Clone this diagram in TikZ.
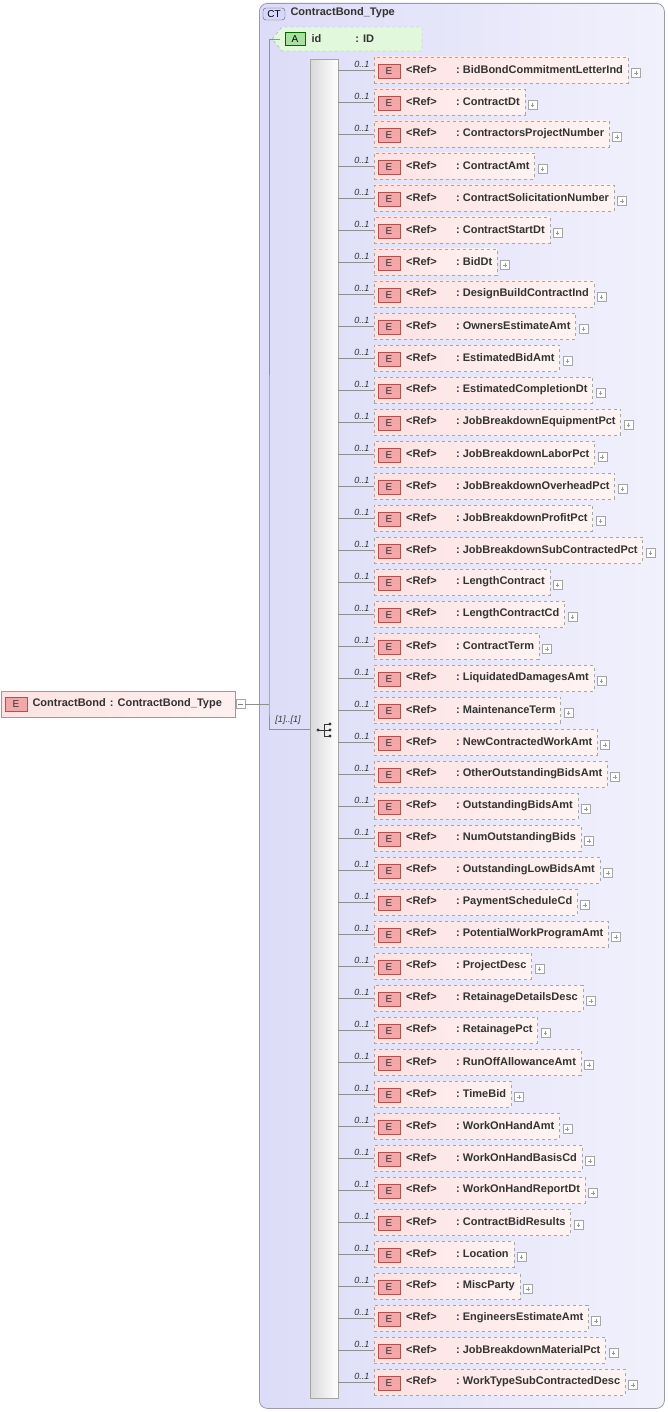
\documentclass[tikz,border=0pt]{standalone}
\usepackage{fontspec}
\setmainfont{Liberation Sans}
\definecolor{ctfill}{HTML}{DCDCF8}
\definecolor{ctborder}{HTML}{9A9AB0}
\definecolor{elfill}{HTML}{FDE2E2}
\definecolor{badge}{HTML}{F2A8A8}
\definecolor{badgeb}{HTML}{B05050}
\definecolor{attfill}{HTML}{E2F8DC}
\definecolor{abadge}{HTML}{A8E0A0}
\definecolor{txt}{HTML}{333333}
\definecolor{ln}{HTML}{909090}
\tikzset{
  elbox/.style={draw=ln!80, dashed, left color=elfill, right color=white!60!elfill, minimum height=26pt, inner xsep=0pt, anchor=west, font=\fontsize{11}{13}\selectfont\bfseries, text=txt},
  ebadge/.style={draw=badgeb, fill=badge, minimum width=22pt, minimum height=14pt, inner sep=0pt, font=\fontsize{10}{12}\selectfont, text=black!80},
  plusbox/.style={draw=ln!80, fill=white, minimum size=9pt, inner sep=0pt},
  conn/.style={draw=ln, line width=0.6pt},
  mult/.style={font=\fontsize{9}{10}\selectfont\itshape, text=txt}
}
\begin{document}
\begin{tikzpicture}[x=1pt,y=-1pt]
\useasboundingbox (0,0) rectangle (668,1412);
% complex type container
\node[draw=ctborder, rounded corners=8pt, left color=ctfill, right color=ctfill!40, minimum width=405pt, minimum height=1405pt, anchor=north west, line width=0.8pt] (ct) at (259,3) {};
\node[draw=ctborder!60!black, fill=ctfill!70!blue!40, rounded corners=3pt, minimum width=22pt, minimum height=12pt, inner sep=0pt, font=\fontsize{10}{12}\selectfont] (ctb) at (274,14) {CT};
\node[anchor=west, font=\fontsize{11}{13}\selectfont\bfseries, text=txt] (ctname) at (287,13) {ContractBond\_Type};
% attribute
\draw[draw=ln!80, dashed, fill=attfill] (272,39) -- (282,27) -- (422,27) -- (422,51) -- (282,51) -- cycle;
\node[draw=green!40!black, fill=abadge, minimum width=20pt, minimum height=13pt, inner sep=0pt, font=\fontsize{10}{12}\selectfont] (ab) at (295,39) {A};
\node[anchor=west, font=\fontsize{11}{13}\selectfont\bfseries, text=txt] (att) at (308,39) {id\hspace{34pt}: ID};
\coordinate (attin) at (280,39);
% sequence bar
\node[draw=ln!80, left color=black!15, right color=white, minimum width=28pt, minimum height=1339pt, anchor=north west, inner sep=0pt] (seq) at (310,59) {};
% sequence icon
\draw[black!80, line width=0.8pt] (318,730) -- (324,730) (324,724) -- (324,736) (324,724) -- (330,724) (324,730) -- (330,730) (324,736) -- (330,736);
\foreach \yy in {724,730,736} \fill[black!80] (330,\yy) circle (1.7pt);
\fill[black!80] (318,730) circle (1.7pt);
% root element
\node[draw=ln!90, left color=elfill, right color=white!50!elfill, minimum height=26pt, minimum width=234pt, anchor=west, inner sep=0pt] (root) at (1,704) {};
\node[ebadge] (rb) at (16,704) {E};
\node[anchor=west, font=\fontsize{11}{13}\selectfont\bfseries, text=txt] (rootname) at (29,704) {ContractBond\hspace{4pt}: ContractBond\_Type};
\node[plusbox, anchor=west] (rminus) at (236,704) {};
\draw[black!50] ([xshift=2pt]rminus.west) -- ([xshift=-2pt]rminus.east);
\coordinate (j) at (269,704);
\draw[conn] (rminus.east) -- (j);
\draw[conn] (attin) -| (j) |- (seq.west |- 0,729);
\node[mult, anchor=south] (m11) at (288,728) {[1]..[1]};
% children
\foreach \name [count=\i from 0] in {BidBondCommitmentLetterInd,ContractDt,ContractorsProjectNumber,ContractAmt,ContractSolicitationNumber,ContractStartDt,BidDt,DesignBuildContractInd,OwnersEstimateAmt,EstimatedBidAmt,EstimatedCompletionDt,JobBreakdownEquipmentPct,JobBreakdownLaborPct,JobBreakdownOverheadPct,JobBreakdownProfitPct,JobBreakdownSubContractedPct,LengthContract,LengthContractCd,ContractTerm,LiquidatedDamagesAmt,MaintenanceTerm,NewContractedWorkAmt,OtherOutstandingBidsAmt,OutstandingBidsAmt,NumOutstandingBids,OutstandingLowBidsAmt,PaymentScheduleCd,PotentialWorkProgramAmt,ProjectDesc,RetainageDetailsDesc,RetainagePct,RunOffAllowanceAmt,TimeBid,WorkOnHandAmt,WorkOnHandBasisCd,WorkOnHandReportDt,ContractBidResults,Location,MiscParty,EngineersEstimateAmt,JobBreakdownMaterialPct,WorkTypeSubContractedDesc} {
  \pgfmathsetmacro{\yy}{70+32*\i}
  \node[elbox] (e\i) at (374,\yy) {\makebox[82pt][l]{\hspace{32pt}<Ref>}:\hspace{3pt}\name\kern5pt\mbox{}};
  \node[ebadge] (b\i) at (389,\yy+1) {E};
  \node[plusbox, anchor=west] (p\i) at ([xshift=3pt,yshift=-3pt]e\i.east) {};
  \draw[black!40] ([xshift=1.8pt]p\i.center) -- ([xshift=-1.8pt]p\i.center) ([yshift=1.8pt]p\i.center) -- ([yshift=-1.8pt]p\i.center);
  \draw[conn] (seq.east |- e\i.west) -- (e\i.west);
  \node[mult, anchor=south east] (m\i) at ([xshift=-1pt,yshift=-1pt]e\i.west) {0..1};
}
\end{tikzpicture}
\end{document}
